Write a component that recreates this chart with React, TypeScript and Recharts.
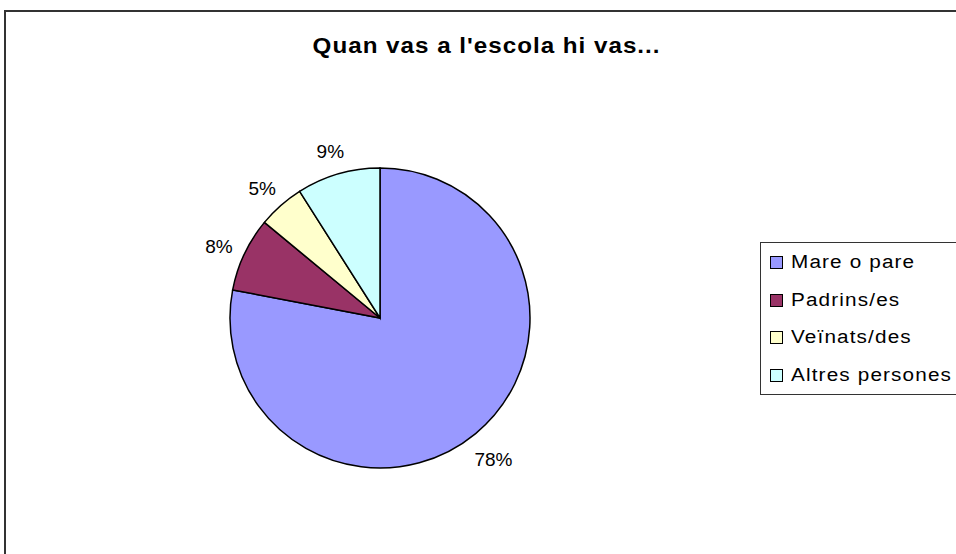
import { PieChart, Pie, Cell } from "recharts";

const categories = ["Mare o pare", "Padrins/es", "Veïnats/des", "Altres persones"];
const values = [78, 8, 5, 9];
const colors = ["#9999FF", "#993366", "#FFFFCC", "#CCFFFF"];
const title = "Quan vas a l'escola hi vas...";

const data = categories.map((name, i) => ({ name, value: values[i] }));

const FONT = "'Liberation Sans', Arial, sans-serif";
const RADIAN = Math.PI / 180;

const renderLabel = (props: any) => {
  const { cx, cy, midAngle, outerRadius, value } = props;
  const r = outerRadius + 28;
  const x = cx + r * Math.cos(-midAngle * RADIAN);
  const y = cy + r * Math.sin(-midAngle * RADIAN) + 4;
  return (
    <text
      x={x}
      y={y}
      textAnchor="middle"
      dominantBaseline="central"
      fontFamily={FONT}
      fontSize={19}
      fill="#000"
    >
      {`${value}%`}
    </text>
  );
};

const LegendBox = () => (
  <div
    style={{
      position: "absolute",
      left: 760,
      top: 242,
      width: 240,
      border: "1px solid #333",
      background: "#fff",
      padding: "1px 0 0 9px",
      boxSizing: "border-box",
    }}
  >
    {categories.map((name, i) => (
      <div
        key={name}
        style={{ display: "flex", alignItems: "center", height: 37.5, fontFamily: FONT }}
      >
        <span
          style={{
            display: "inline-block",
            width: 11,
            height: 11,
            background: colors[i],
            border: "1px solid #000",
            marginRight: 8,
            flexShrink: 0,
          }}
        />
        <span
          style={{
            fontSize: 18,
            letterSpacing: 1,
            color: "#000",
            display: "inline-block",
            transform: "scaleX(1.15)",
            transformOrigin: "left center",
            whiteSpace: "nowrap",
          }}
        >
          {name}
        </span>
      </div>
    ))}
  </div>
);

export default function App() {
  return (
    <div
      style={{
        position: "absolute",
        left: 0,
        top: 0,
        width: 956,
        height: 554,
        overflow: "hidden",
        background: "#fff",
      }}
    >
      <div
        style={{
          position: "absolute",
          left: 4,
          top: 10,
          width: 1000,
          height: 600,
          border: "2px solid #333",
        }}
      />
      <div
        style={{
          position: "absolute",
          left: 0,
          top: 33,
          width: 973,
          textAlign: "center",
          fontFamily: FONT,
          fontWeight: "bold",
          fontSize: 22,
          letterSpacing: 0.9,
          color: "#000",
          transform: "scaleX(1.1)",
          transformOrigin: "486px 0",
          whiteSpace: "nowrap",
        }}
      >
        {title}
      </div>
      <div style={{ position: "absolute", left: 0, top: 0 }}>
        <PieChart width={956} height={554} margin={{ top: 0, right: 0, bottom: 0, left: 0 }}>
          <Pie
            data={data}
            dataKey="value"
            nameKey="name"
            cx={380}
            cy={318}
            outerRadius={150}
            startAngle={90}
            endAngle={-270}
            stroke="#000"
            strokeWidth={1.5}
            label={renderLabel}
            labelLine={false}
            isAnimationActive={false}
          >
            {data.map((d, i) => (
              <Cell key={d.name} fill={colors[i]} />
            ))}
          </Pie>
        </PieChart>
      </div>
      <LegendBox />
    </div>
  );
}
